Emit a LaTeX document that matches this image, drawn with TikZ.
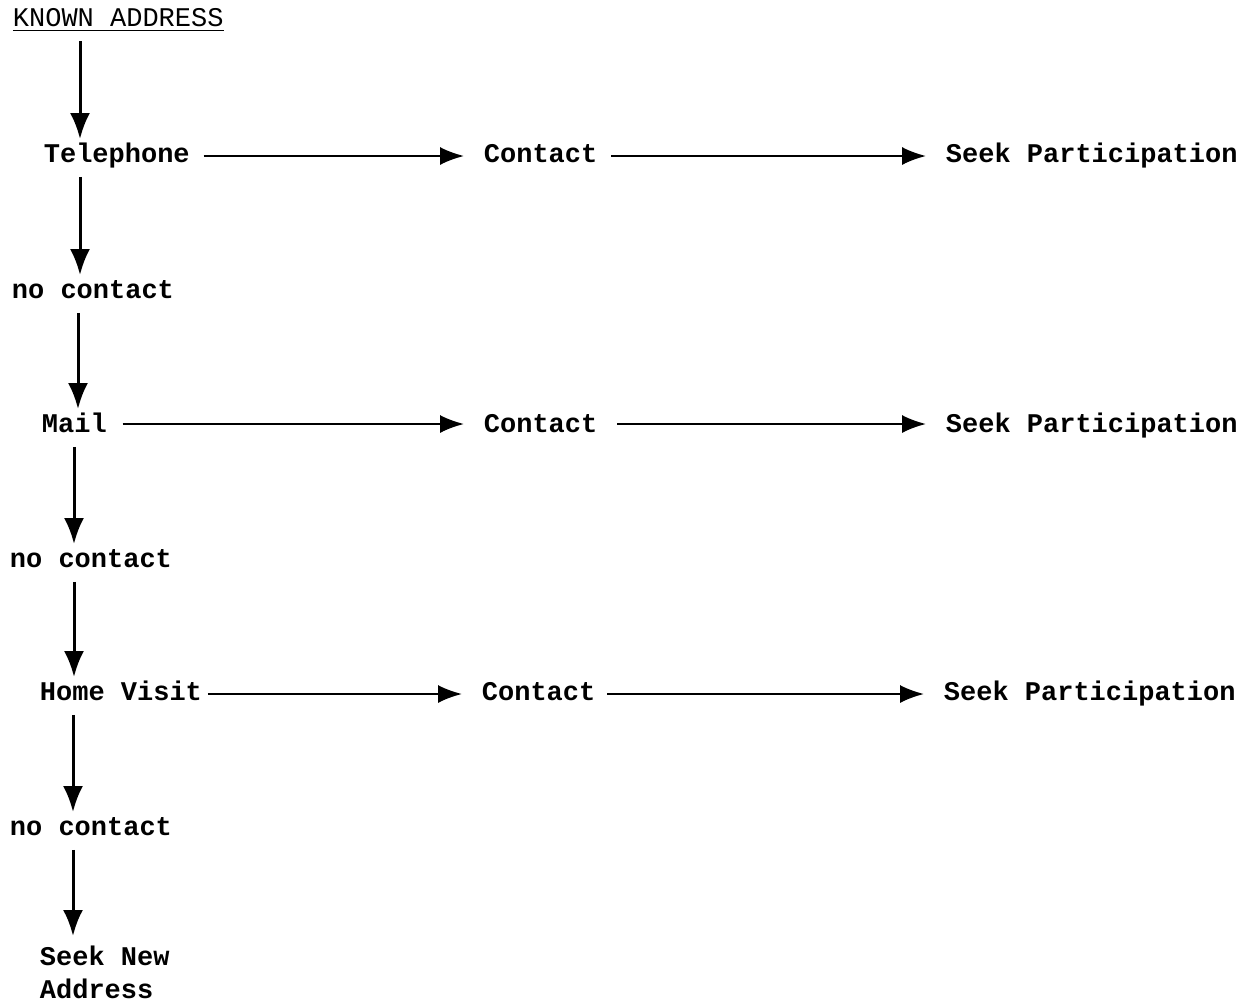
\documentclass[tikz,border=0pt]{standalone}
\usepackage{fontspec}
\setmonofont{Liberation Mono}
\usetikzlibrary{arrows.meta}

\tikzset{
    lbl/.style={anchor=west, inner sep=0.75pt, text height=1.6ex, text depth=0.5ex, font=\ttfamily\bfseries\fontsize{13.5}{16.5}\selectfont},
    hline/.style={-{Latex[length=12pt,width=9pt]}, line width=1pt, shorten <=6pt, shorten >=9pt},
    vline/.style={-{Latex[length=13pt,width=10pt]}, line width=1.5pt, shorten <=4pt, shorten >=4pt}
}

\begin{document}
\begin{tikzpicture}[x=0.5pt,y=0.5pt,yscale=-1,xscale=1]
        \useasboundingbox (0,0) rectangle (1259,1007);

        \node (known) [anchor=west, inner sep=0.75pt, font=\ttfamily\fontsize{13.5}{16.5}\selectfont] at (11,20) {\underline{KNOWN ADDRESS}};

        \node (tel) [lbl] at (42,158) {Telephone};
        \node (cont1) [lbl] at (482,158) {Contact};
        \node (seek1) [lbl] at (944,158) {Seek Participation};
        \node (nc1) [lbl] at (10,294) {no contact};

        \node (mail) [lbl] at (40,428) {Mail};
        \node (cont2) [lbl] at (482,428) {Contact};
        \node (seek2) [lbl] at (944,428) {Seek Participation};
        \node (nc2) [lbl] at (8,563) {no contact};

        \node (home) [lbl] at (38,696) {Home Visit};
        \node (cont3) [lbl] at (480,696) {Contact};
        \node (seek3) [lbl] at (942,696) {Seek Participation};
        \node (nc3) [lbl] at (8,831) {no contact};

        \node (newaddr) [lbl, anchor=north west, align=left, text height=, text depth=] at (38,944) {Seek New\\Address};

        % across
        \draw [hline] ([yshift=-1pt]tel.east) -- ([yshift=-1pt]cont1.west);
        \draw [hline] ([yshift=-1pt]cont1.east) -- ([yshift=-1pt]seek1.west);
        \draw [hline, shorten <=7pt] ([yshift=-2pt]mail.east) -- ([yshift=-2pt]cont2.west);
        \draw [hline, shorten <=9pt] ([yshift=-2pt]cont2.east) -- ([yshift=-2pt]seek2.west);
        \draw [hline, shorten <=2pt] ([yshift=-1pt]home.east) -- ([yshift=-1pt]cont3.west);
        \draw [hline, shorten <=5pt] ([yshift=-1pt]cont3.east) -- ([yshift=-1pt]seek3.west);

        % down
        \draw [vline] (known.south -| 80,0) -- (tel.north -| 80,0);
        \draw [vline] (tel.south -| 80,0) -- (nc1.north -| 80,0);
        \draw [vline] (nc1.south -| 78,0) -- (mail.north -| 78,0);
        \draw [vline] (mail.south -| 74,0) -- (nc2.north -| 74,0);
        \draw [vline] (nc2.south -| 74,0) -- (home.north -| 74,0);
        \draw [vline] (home.south -| 73,0) -- (nc3.north -| 73,0);
        \draw [vline] (nc3.south -| 73,0) -- (newaddr.north -| 73,0);
    \end{tikzpicture}
\end{document}
